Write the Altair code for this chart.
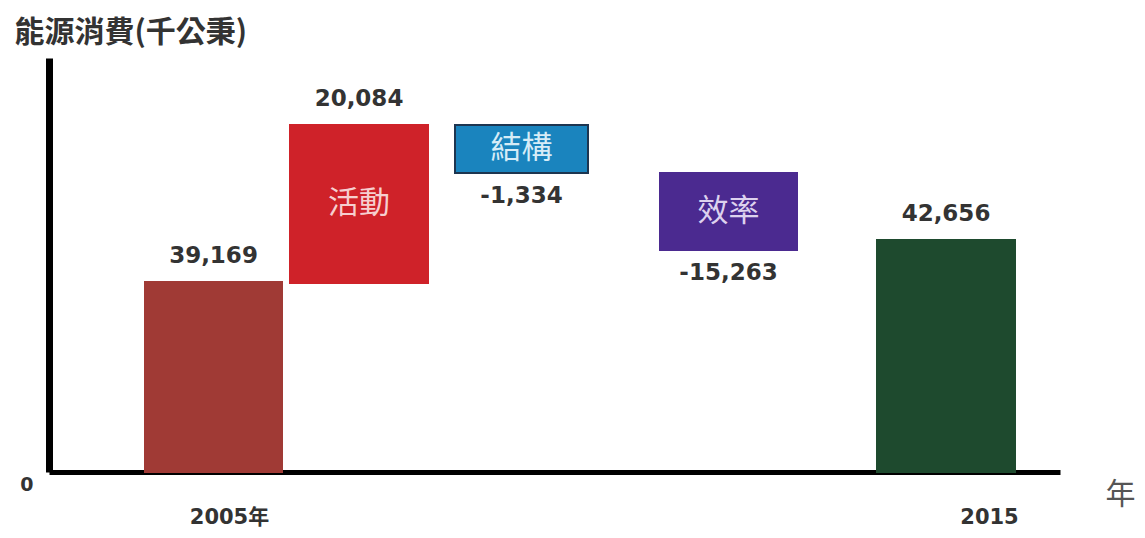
import altair as alt
import pandas as pd

# ---- data ----
categories = ["2005", "活動", "結構", "效率", "2015"]
values = [39169, 20084, -1334, -15263, 42656]
inner_labels = ["", "活動", "結構", "效率", ""]
# schematic (not-to-scale) bar extents as drawn in the reference
slot_start = [96, 241, 406, 611, 828]
slot_end = [233, 379, 539, 748, 966]
level_low = [0, 189, 299, 222, 0]
level_high = [190, 347, 347, 299, 232]
bar_colors = ["#a03a35", "#cf2229", "#1a84be", "#4b2a90", "#1e4a2e"]
text_colors = ["#ffffff", "#f6cfcf", "#d6ecf7", "#ddd2ee", "#ffffff"]
bar_strokes = ["#a03a35", "#cf2229", "#1d3550", "#4b2a90", "#1e4a2e"]
x_tick_values = [180, 940]
x_tick_labels = ["2005年", "2015"]

df = pd.DataFrame({
    "cat": categories,
    "value": values,
    "inner": inner_labels,
    "x0": slot_start,
    "x1": slot_end,
    "low": level_low,
    "high": level_high,
    "fill": bar_colors,
    "tcolor": text_colors,
    "stroke": bar_strokes,
})
df["mid"] = (df["x0"] + df["x1"]) / 2
df["center"] = (df["low"] + df["high"]) / 2
df["vtext"] = [f"{v:,}" for v in df["value"]]

FONT = "DejaVu Sans, 'Noto Sans CJK TC'"
CJK = "'Noto Sans CJK TC', 'DejaVu Sans'"

label_expr = " : ".join(
    f"datum.value == {v} ? '{t}'" for v, t in zip(x_tick_values[:-1], x_tick_labels[:-1])
) + f" : '{x_tick_labels[-1]}'"

xscale = alt.Scale(domain=[0, 1011], nice=False, zero=False)
yscale = alt.Scale(domain=[0, 414], nice=False)

base = alt.Chart(df)

bars = base.mark_bar(strokeWidth=2).encode(
    x=alt.X("x0:Q", scale=xscale, axis=alt.Axis(
        values=x_tick_values, labelExpr=label_expr, grid=False, ticks=False,
        domainColor="#000", domainWidth=5, labelFont=FONT, labelFontSize=21,
        labelFontWeight="bold", labelColor="#333", labelPadding=45,
        labelBaseline="middle", title="年", titleFont=CJK, titleFontSize=30,
        titleFontWeight="normal", titleColor="#555", titleX=1071, titleY=22,
        titleAlign="center", titleBaseline="middle")),
    x2="x1:Q",
    y=alt.Y("low:Q", scale=yscale, axis=alt.Axis(
        values=[0], grid=False, ticks=False, domainColor="#000", domainWidth=7,
        labelFont=FONT, labelFontSize=19, labelFontWeight="bold", labelColor="#333",
        labelPadding=16, labelOffset=12, labelBaseline="middle",
        title="能源消費(千公秉)", titleFont=CJK, titleFontSize=30,
        titleFontWeight="bold", titleColor="#333", titleAngle=0,
        titleX=-35, titleY=-26, titleAlign="left", titleBaseline="middle")),
    y2="high:Q",
    color=alt.Color("fill:N", scale=None),
    stroke=alt.Stroke("stroke:N", scale=None),
)

inner = base.mark_text(font=CJK, fontSize=31, baseline="middle").encode(
    x="mid:Q", y="center:Q", text="inner:N",
    color=alt.Color("tcolor:N", scale=None),
)

pos_labels = base.transform_filter("datum.value > 0").mark_text(
    font=FONT, fontSize=23, fontWeight="bold", color="#333",
    baseline="middle", dy=-26).encode(
    x="mid:Q", y="high:Q", text="vtext:N")

neg_labels = base.transform_filter("datum.value < 0").mark_text(
    font=FONT, fontSize=23, fontWeight="bold", color="#333",
    baseline="middle", dy=23).encode(
    x="mid:Q", y="low:Q", text="vtext:N")

chart = alt.layer(bars, inner, pos_labels, neg_labels).properties(
    width=1011, height=414,
    autosize=alt.AutoSizeParams(type="none"),
    padding={"left": 41, "top": 50, "right": 77, "bottom": 58},
    background="white",
).configure_view(stroke=None)

chart.save("out.html", embed_options={"renderer": "svg", "actions": False})
